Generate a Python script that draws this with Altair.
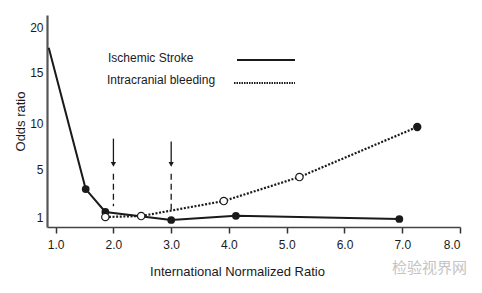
import altair as alt
import pandas as pd

# Ischemic stroke (solid line, filled markers; first point has no marker)
isch_x = [0.88, 1.52, 1.86, 3.0, 4.12, 6.95]
isch_y = [17.7, 3.33, 1.42, 0.7, 1.1, 0.8]
isch_marked = [False, True, True, True, True, True]

# Intracranial bleeding (dotted line, open markers; last one filled)
bleed_x = [1.86, 2.48, 3.91, 5.22, 7.26]
bleed_y = [1.0, 1.08, 2.33, 4.33, 9.57]
bleed_filled = [False, False, False, False, True]

# Arrows marking INR 2.0 and 3.0
arrow_x = [2.0, 3.0]
arrow_top = [8.3, 8.0]
arrow_head = [5.5, 5.5]
dash_top = [4.6, 4.6]
dash_bottom = [1.9, 1.45]

y_ticks = [1, 5, 10, 15, 20]
x_ticks = [1.0, 2.0, 3.0, 4.0, 5.0, 6.0, 7.0, 8.0]

legend_labels = ["Ischemic Stroke", "Intracranial bleeding"]

FONT = "Liberation Sans"
INK = "#1a1a1a"

isch = pd.DataFrame({"x": isch_x, "y": isch_y, "m": isch_marked})
bleed = pd.DataFrame({"x": bleed_x, "y": bleed_y, "f": bleed_filled})
arrows = pd.DataFrame({"x": arrow_x, "top": arrow_top, "head": arrow_head,
                       "dtop": dash_top, "dbot": dash_bottom})
one = pd.DataFrame({"k": [0]})

xs = alt.Scale(domain=[0.85, 8.0], nice=False, zero=False)
ys = alt.Scale(domain=[0, 1, 5, 10, 15, 20, 21.33],
               range=[212, 202, 154, 108, 57, 12, 0], nice=False, zero=False)

xax = alt.Axis(values=x_ticks, format=".1f", title="International Normalized Ratio",
               grid=False, domainColor="#444", domainWidth=1.5, tickColor="#333",
               tickWidth=1.5, tickSize=6, labelFontSize=12, labelFont=FONT,
               labelColor=INK, labelPadding=6, titleFont=FONT, titleFontSize=13,
               titleFontWeight="normal", titleColor=INK, titleX=190, titleY=44,
               titleAnchor="middle", titleBaseline="middle")
yax = alt.Axis(values=y_ticks, title="Odds ratio", grid=False, ticks=False,
               domainColor="#555", domainWidth=2.2, labelFontSize=12,
               labelFont=FONT, labelColor=INK, labelPadding=4, titleFont=FONT,
               titleFontSize=13, titleFontWeight="normal", titleColor=INK,
               titleAngle=-90, titleX=-27, titleY=106, titleAnchor="middle",
               titleBaseline="middle", titleAlign="center")

X = alt.X("x:Q", scale=xs, axis=xax)
Y = alt.Y("y:Q", scale=ys, axis=yax)

isch_line = alt.Chart(isch).mark_line(color=INK, strokeWidth=2).encode(x=X, y=Y)
isch_pts = alt.Chart(isch).transform_filter("datum.m").mark_point(
    filled=True, color=INK, size=60, shape="circle", opacity=1
).encode(x="x:Q", y="y:Q")

bleed_line = alt.Chart(bleed).mark_line(
    color=INK, strokeWidth=2.2, strokeDash=[2, 1.6]
).encode(x="x:Q", y="y:Q")
bleed_open = alt.Chart(bleed).transform_filter("!datum.f").mark_point(
    shape="circle", size=55, fill="white", filled=False, stroke=INK,
    strokeWidth=1.2, opacity=1, fillOpacity=1
).encode(x="x:Q", y="y:Q")
bleed_full = alt.Chart(bleed).transform_filter("datum.f").mark_point(
    shape="circle", size=70, filled=True, color=INK, opacity=1
).encode(x="x:Q", y="y:Q")

arrow_shaft = alt.Chart(arrows).mark_rule(color=INK, strokeWidth=1.3).encode(
    x="x:Q", y="top:Q", y2="head:Q")
arrow_tip = alt.Chart(arrows).mark_point(
    shape="triangle-down", filled=True, color=INK, size=28, opacity=1
).encode(x="x:Q", y="head:Q")
arrow_dash = alt.Chart(arrows).mark_rule(
    color=INK, strokeWidth=1.3, strokeDash=[6, 4]).encode(
    x="x:Q", y="dtop:Q", y2="dbot:Q")

leg1 = alt.Chart(one).mark_text(
    text=legend_labels[0], align="left", baseline="middle", font=FONT,
    fontSize=12, color=INK).encode(x=alt.value(61), y=alt.value(43))
leg2 = alt.Chart(one).mark_text(
    text=legend_labels[1], align="left", baseline="middle", font=FONT,
    fontSize=12, color=INK).encode(x=alt.value(60), y=alt.value(65))
leg_r1 = alt.Chart(one).mark_rule(color=INK, strokeWidth=2).encode(
    x=alt.value(190), x2=alt.value(248), y=alt.value(45))
leg_r2 = alt.Chart(one).mark_rule(color=INK, strokeWidth=2, strokeDash=[1.5, 1]).encode(
    x=alt.value(187), x2=alt.value(248), y=alt.value(68))

watermark = alt.Chart(one).mark_text(
    text="检验视界网", align="left", baseline="middle", font="Noto Sans CJK SC",
    fontSize=15, color="#c4c4c4").encode(x=alt.value(345), y=alt.value(253))

chart = alt.layer(
    isch_line, bleed_line, arrow_shaft, arrow_dash, arrow_tip,
    isch_pts, bleed_open, bleed_full, leg1, leg2, leg_r1, leg_r2, watermark
).properties(
    width=413, height=212,
    autosize=alt.AutoSizeParams(type="none"),
    padding={"left": 47, "top": 15, "right": 22, "bottom": 66},
    background="white",
).configure_view(stroke=None)

chart.save("out.html", embed_options={"renderer": "svg", "actions": False})
